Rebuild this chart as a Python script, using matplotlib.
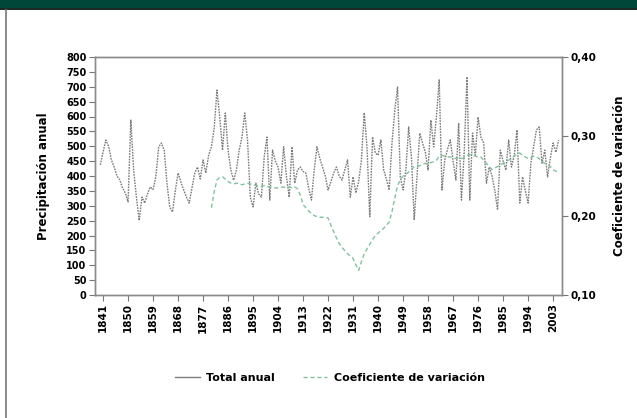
import matplotlib
matplotlib.use("Agg")
import matplotlib.pyplot as plt
from matplotlib.lines import Line2D
from matplotlib.patches import Rectangle

years_total = list(range(1840, 2006))
total_anual = [
    437, 480, 521, 500, 454, 430, 400, 387, 360, 343,   # 1840-1849
    313, 588, 420, 330, 250, 329, 309, 340, 363, 355,   # 1850-1859
    397, 497, 511, 487, 376, 296, 279, 350, 410, 380,   # 1860-1869
    353, 330, 309, 360, 410, 430, 390, 454, 410, 470,   # 1870-1879
    498, 560, 689, 598, 487, 612, 487, 420, 386, 420,   # 1880-1889
    487, 530, 612, 521, 329, 296, 376, 340, 329, 464,   # 1890-1899
    531, 319, 487, 450, 430, 376, 498, 400, 329, 498,   # 1900-1909
    376, 420, 430, 415, 410, 360, 319, 420, 498, 460,   # 1910-1919
    430, 400, 353, 380, 410, 430, 400, 386, 420, 454,   # 1920-1929
    329, 397, 343, 380, 454, 612, 498, 263, 531, 477,   # 1930-1939
    470, 521, 420, 390, 353, 511, 620, 699, 397, 353,   # 1940-1949
    420, 565, 464, 252, 400, 544, 511, 480, 420, 588,   # 1950-1959
    498, 600, 723, 353, 454, 490, 521, 450, 386, 578,   # 1960-1969
    319, 480, 733, 319, 544, 470, 598, 531, 511, 376,   # 1970-1979
    430, 400, 353, 286, 487, 450, 420, 521, 430, 470,   # 1980-1989
    555, 309, 397, 350, 309, 443, 500, 555, 565, 443,   # 1990-1999
    487, 397, 460, 511, 480, 521,                       # 2000-2005
]

years_cv = list(range(1880, 2006))
coef_variacion = [
    0.210, 0.230, 0.245, 0.248, 0.249, 0.246, 0.243, 0.241, 0.240, 0.241,  # 1880-1889
    0.240, 0.239, 0.240, 0.241, 0.240, 0.239, 0.238, 0.238, 0.237, 0.238,  # 1890-1899
    0.237, 0.236, 0.236, 0.235, 0.235, 0.236, 0.236, 0.235, 0.236, 0.235,  # 1900-1909
    0.236, 0.234, 0.226, 0.214, 0.210, 0.206, 0.203, 0.200, 0.199, 0.198,  # 1910-1919
    0.198, 0.198, 0.197, 0.188, 0.180, 0.172, 0.165, 0.160, 0.156, 0.152,  # 1920-1929
    0.149, 0.146, 0.138, 0.131, 0.142, 0.152, 0.158, 0.164, 0.170, 0.175,  # 1930-1939
    0.178, 0.181, 0.184, 0.188, 0.192, 0.205, 0.222, 0.238, 0.245, 0.250,  # 1940-1949
    0.252, 0.255, 0.258, 0.262, 0.262, 0.263, 0.265, 0.266, 0.265, 0.267,  # 1950-1959
    0.268, 0.270, 0.275, 0.276, 0.275, 0.274, 0.274, 0.273, 0.272, 0.273,  # 1960-1969
    0.272, 0.273, 0.276, 0.277, 0.276, 0.275, 0.274, 0.274, 0.270, 0.266,  # 1970-1979
    0.262, 0.258, 0.260, 0.262, 0.264, 0.266, 0.268, 0.270, 0.272, 0.275,  # 1980-1989
    0.278, 0.279, 0.276, 0.274, 0.272, 0.273, 0.275, 0.274, 0.272, 0.268,  # 1990-1999
    0.266, 0.264, 0.262, 0.258, 0.256, 0.255,                              # 2000-2005
]

x_ticks = list(range(1841, 2004, 9))
left_ticks = list(range(0, 801, 50))
right_ticks = [0.10, 0.20, 0.30, 0.40]
right_labels = ["0,10", "0,20", "0,30", "0,40"]

FONT = ['Liberation Sans Narrow', 'DejaVu Sans']
plt.rcParams['font.family'] = FONT

W, H = 637, 418
fig = plt.figure(figsize=(W / 100, H / 100), dpi=100)
fig.patch.set_facecolor('white')

# header band and left border
fig.add_artist(Rectangle((0, 1 - 8 / H), 1, 8 / H, transform=fig.transFigure,
                         facecolor='#00473a', edgecolor='none'))
fig.add_artist(Rectangle((0, 1 - 10 / H), 1, 2 / H, transform=fig.transFigure,
                         facecolor='#1e2a26', edgecolor='none'))
fig.add_artist(Line2D([6 / W, 6 / W], [0, 1 - 10 / H], transform=fig.transFigure,
                      color='#777777', lw=1.2))

ax = fig.add_axes([95 / W, 1 - 295 / H, (562 - 95) / W, (295 - 57) / H])
ax2 = ax.twinx()

tot_color = '#7c7c7c'
cv_color = '#86bfa0'
ax.plot(years_total, total_anual, color=tot_color, lw=1.0, linestyle=(0, (1.2, 0.8)), zorder=3)
ax2.plot(years_cv, coef_variacion, color=cv_color, lw=1.0, linestyle=(0, (3, 2)), zorder=2)

ax.set_xlim(1838.1, 2006.2)
ax.set_ylim(0, 800)
ax2.set_ylim(0.10, 0.40)

ax.set_xticks(x_ticks)
ax.set_xticklabels([str(y) for y in x_ticks], rotation=90, fontsize=7.5, fontweight='bold')
ax.set_yticks(left_ticks)
ax.set_yticklabels([str(v) for v in left_ticks], fontsize=7, fontweight='bold')
ax2.set_yticks(right_ticks)
ax2.set_yticklabels(right_labels, fontsize=7.5, fontweight='bold')

for a in (ax, ax2):
    for s in a.spines.values():
        s.set_color('#8a8a8a')
        s.set_linestyle((0, (1.5, 1)))
        s.set_linewidth(1.0)
    a.tick_params(direction='out', length=4, width=0.8, color='#777777', pad=2)

ax.set_ylabel('Precipitación anual', fontsize=8.5, fontweight='bold', labelpad=12)
ax2.set_ylabel('Coeficiente de variación', fontsize=8.5, fontweight='bold', labelpad=12)

handles = [Line2D([], [], color=tot_color, lw=1.0),
           Line2D([], [], color=cv_color, lw=1.0, linestyle=(0, (3, 2)))]
fig.legend(handles, ['Total anual', 'Coeficiente de variación'],
           loc='center', bbox_to_anchor=(330 / W, 1 - 378 / H), ncol=2, frameon=False,
           prop={'family': FONT, 'weight': 'bold', 'size': 8}, handlelength=2.2,
           columnspacing=2.5, handletextpad=0.6)

fig.savefig('out.png', dpi=100)
